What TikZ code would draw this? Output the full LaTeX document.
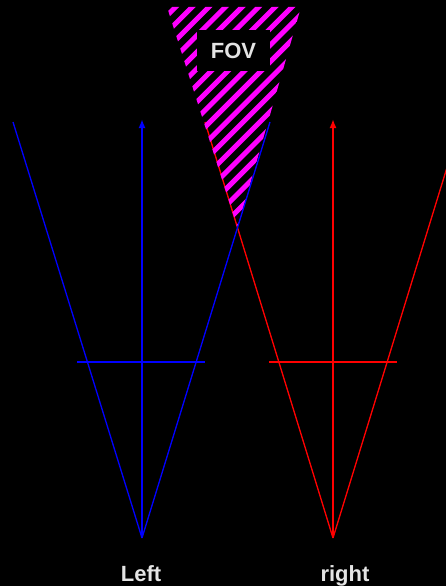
\documentclass[tikz,border=0pt]{standalone}
\usepackage{fontspec}
\setmainfont{Liberation Sans}
\usepackage{tikz}
\usetikzlibrary{positioning, arrows.meta, calc}

\definecolor{labelgray}{HTML}{E4E4E4}
\definecolor{fovmagenta}{HTML}{FF00FF}
\tikzset{
  ray/.style={line width=1.3pt},
  camaxis/.style={line width=2.5pt, ->},
  imgbar/.style={line width=2.3pt},
  fovstripe/.style={fovmagenta, line width=5pt},
  camlabel/.style={text=labelgray, anchor=base, inner sep=0pt},
}

\begin{document}
\begin{tikzpicture}[x=1pt, y=-1pt, >={Latex[length=9pt, width=7pt]}, font=\bfseries\fontsize{22}{25}\selectfont]
                    % Black page
                    \fill[black] (0,0) rectangle (446,586);
                    \useasboundingbox (0,0) rectangle (446,586);
                    \clip (0,0) rectangle (446,586);

                    % Camera centres and ray ends
                    \coordinate (lcam) at (142,538);
                    \coordinate (rcam) at (333,538);
                    \coordinate (ltop) at (142,119);
                    \coordinate (rtop) at (333,119);
                    \coordinate (lrayl) at (13,122);
                    \coordinate (lrayr) at (270,122);
                    \coordinate (rrayl) at (205,122);
                    \coordinate (rrayr) at (461,122);

                    % Right camera (red)
                    \draw[ray, red] (rcam) -- (rrayl);
                    \draw[ray, red] (rcam) -- (rrayr);
                    \draw[camaxis, red] (rcam) -- (rtop);
                    \draw[imgbar, red] (269,362) -- (397,362);

                    % Field of view (hatched)
                    \coordinate (fovl) at (167,7);
                    \coordinate (fovr) at (301,7);
                    \coordinate (fovx) at (237.5,228);
                    \begin{scope}
                      \clip (fovl) -- (fovr) -- (fovx) -- cycle;
                      \foreach \c in {166,182.6,...,480}
                        \draw[fovstripe] (\c-250,250) -- (\c,0);
                    \end{scope}

                    % Left camera (blue)
                    \draw[ray, blue] (lcam) -- (lrayl);
                    \draw[ray, blue] (lcam) -- (lrayr);
                    \draw[camaxis, blue] (lcam) -- (ltop);
                    \draw[imgbar, blue] (77,362) -- (205,362);

                    % Labels
                    \node[fill=black, text=labelgray, minimum width=73pt, minimum height=41pt] (fov) at (233.5,50.5) {FOV};
                    \node[camlabel] (leftlbl) at (141,581) {Left};
                    \node[camlabel] (rightlbl) at (345,581) {right};
                \end{tikzpicture}
\end{document}
